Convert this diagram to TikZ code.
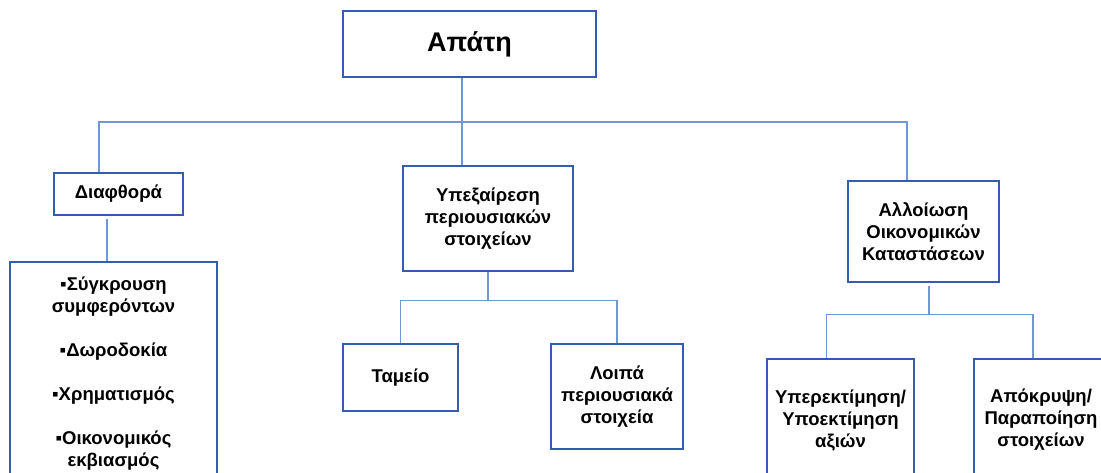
\documentclass[tikz,border=0pt]{standalone}
\usepackage{fontspec}
\setmainfont{Liberation Sans}
\definecolor{boxblue}{RGB}{52,92,176}
\definecolor{lineblue}{RGB}{112,150,212}
\tikzset{
  box/.style={draw=boxblue,line width=1.2pt,align=center,inner sep=2pt,
    font=\fontsize{18.5}{22}\selectfont\bfseries},
  conn/.style={draw=lineblue,line width=1.2pt}
}
\begin{document}
\begin{tikzpicture}[x=1pt,y=-1pt]
  \clip (0,0) rectangle (1101,472);
  % top box
  \node[box,minimum width=253pt,minimum height=66pt,font=\fontsize{27}{32}\selectfont\bfseries]
    (apati) at (469.5,44) {Απάτη};
  % second level
  \node[box,minimum width=129pt,minimum height=42pt] (diafth) at (118.5,194) {Διαφθορά};
  \node[box,minimum width=170pt,minimum height=105pt] (ypex) at (488,218.5)
    {Υπεξαίρεση\\περιουσιακών\\στοιχείων};
  \node[box,minimum width=151pt,minimum height=101pt] (alloi) at (923.5,231.5)
    {Αλλοίωση\\Οικονομικών\\Καταστάσεων};
  % third level
  \node[box,minimum width=207pt,minimum height=224pt] (bullets) at (113.5,374)
    {▪Σύγκρουση\\συμφερόντων\\[22pt]▪Δωροδοκία\\[22pt]▪Χρηματισμός\\[22pt]▪Οικονομικός\\εκβιασμός};
  \node[box,minimum width=115pt,minimum height=67pt] (tameio) at (400.5,377.5) {Ταμείο};
  \node[box,minimum width=132pt,minimum height=105pt] (loipa) at (617,396.5)
    {Λοιπά\\περιουσιακά\\στοιχεία};
  \node[box,minimum width=147pt,minimum height=122pt] (yper) at (840.5,420)
    {Υπερεκτίμηση/\\Υποεκτίμηση\\αξιών};
  \node[box,minimum width=134pt,minimum height=122pt] (apokr) at (1041,420)
    {Απόκρυψη/\\Παραποίηση\\στοιχείων};
  % connectors from the top box
  \coordinate (bar) at (462,122);
  \draw[conn] ([xshift=-19.5pt]diafth.north) |- (bar) -| ([xshift=-16.5pt]alloi.north);
  \draw[conn] (apati.south -| bar) -- (ypex.north -| bar);
  % Diafthora to its list
  \draw[conn] ([xshift=-11.5pt,yshift=-3pt]diafth.south) -- ([xshift=-11.5pt]diafth.south |- bullets.north);
  % Ypexairesi branch
  \draw[conn] (ypex.south) -- ++(0,29) coordinate (ybar);
  \draw[conn] (tameio.north) |- (ybar) -| (loipa.north);
  % Alloiosi branch
  \draw[conn] ([xshift=5.5pt,yshift=-3pt]alloi.south) -- ++(0,29) coordinate (abar);
  \draw[conn] ([xshift=-14pt]yper.north) |- (abar) -| ([xshift=-8pt]apokr.north);
\end{tikzpicture}
\end{document}
